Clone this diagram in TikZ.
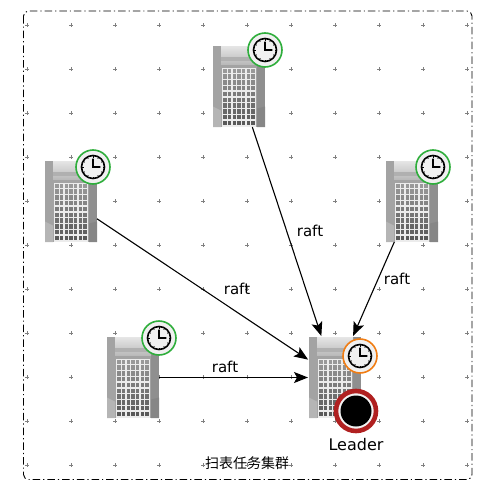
\documentclass[tikz,border=0pt]{standalone}
\usepackage{fontspec}
\setmainfont{DejaVu Sans}
\newfontfamily\cjkfont{Noto Sans CJK SC}
\usetikzlibrary{arrows.meta}
\definecolor{ringG}{HTML}{2FAE3C}
\definecolor{ringO}{HTML}{F07D14}
\definecolor{ringR}{HTML}{B02020}
\tikzset{
  serverbox/.style={minimum width=52pt,minimum height=81pt,inner sep=0pt,outer sep=0pt},
  link/.style={-{Stealth[length=14pt,width=11pt,inset=3pt]},line width=1.1pt,shorten >=1pt},
  lbl/.style={font=\fontsize{15}{15}\selectfont,inner sep=0pt},
  server/.pic={
    % origin at the middle of the box
    \fill[gray!72] (-26,-40.5) rectangle (26,40.5);
    \fill[gray!58] (-26,20) -- (-18,24) -- (-18,40.5) -- (-26,40.5) -- cycle;
    \fill[gray!88] (18,-40.5) rectangle (26,40.5);
    \fill[gray!95] (18,22) -- (26,20) -- (26,40.5) -- (18,40.5) -- cycle;
    \shade[top color=gray!20,bottom color=gray!55] (-18,-40.5) rectangle (18,-22);
    \fill[gray!62] (-18,-30) rectangle (18,-26);
    \fill[white!85!gray] (-17,-19) rectangle (17,40);
    \foreach \i in {0,...,6}
      \foreach \j in {0,...,9}
        \fill[black,opacity=.35+.03*\j] (-15.8+4.7*\i,-18+5.8*\j) rectangle ++(3.4,4.4);
  },
  clockpic/.style={},
  clockface/.pic={
    \fill[white!88!gray] (0,0) circle (16.5);
    \draw[line width=1.6pt] (0,0) circle (11.5);
    \foreach \a in {0,30,...,330}
      \draw[line width=.7pt] (\a:11.5) -- (\a:9.5);
    \draw[line width=1.3pt,line cap=round] (0,-8) -- (0,0) -- (7,0);
  }
}
\begin{document}
\begin{tikzpicture}[x=1pt,y=-1pt]
  \useasboundingbox (0,0) rectangle (485,490);

  \foreach \i in {0,...,10}
    \foreach \j in {0,...,10}
      \draw[gray,line width=.6pt] (27+44*\i-1.7,25+44*\j) -- ++(3.4,0) (27+44*\i,25+44*\j-1.7) -- ++(0,3.4);

  \draw[line width=.9pt,rounded corners=5pt,dash pattern=on 7.5pt off 3pt on 1.2pt off 3pt]
    (23.5,11) rectangle (472,479.5);

  \node[serverbox] (srvTop) at (239,86.5) {};
  \node[serverbox] (srvLeft) at (71,201.5) {};
  \node[serverbox] (srvRight) at (412,201.5) {};
  \node[serverbox] (srvLow) at (133,377.5) {};
  \node[serverbox] (srvLeader) at (335,377.5) {};

  \foreach \n in {srvTop,srvLeft,srvRight,srvLow,srvLeader}
    \pic at (\n) {server};

  \foreach \p/\c in {262/49/ringG,93/167/ringG,433/167/ringG,159/338/ringG,360/356/ringO}{}
  \foreach \px/\py/\c in {265/50/ringG,93/167/ringG,433/167/ringG,159/338/ringG,360/356/ringO}{
    \pic at (\px,\py) {clockface};
    \draw[\c,line width=1.6pt] (\px,\py) circle (17);
  }

  \fill[white!90!gray] (356,411) circle (20);
  \draw[ringR,line width=4.6pt] (356,411) circle (20);
  \fill[black] (356,411) circle (15.5);

  \draw[link] (srvTop) -- (srvLeader);
  \draw[link] (srvLeft) -- (srvLeader);
  \draw[link] (srvRight) -- (srvLeader);
  \draw[link] (srvLow) -- (srvLeader);

  \node[lbl] (raftTop) at (310,231) {raft};
  \node[lbl] (raftLeft) at (237,289) {raft};
  \node[lbl] (raftRight) at (397,279) {raft};
  \node[lbl] (raftLow) at (225,367) {raft};
  \node[font=\fontsize{16}{16}\selectfont,inner sep=0pt] (leaderLbl) at (356,445) {Leader};
  \node[font=\fontsize{14}{14}\selectfont\cjkfont,inner sep=0pt] (clusterLbl) at (247,463) {扫表任务集群};
\end{tikzpicture}
\end{document}
